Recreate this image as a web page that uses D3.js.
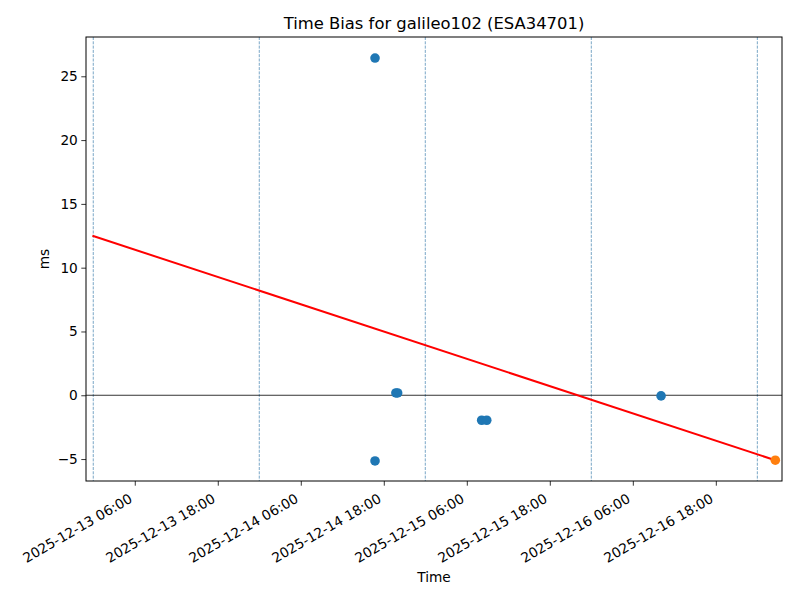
<!DOCTYPE html>
<html><head><meta charset="utf-8">
<script src="https://cdn.jsdelivr.net/npm/d3@7"></script>
<style>body{margin:0;background:#fff}svg{display:block}text{font-family:"DejaVu Sans",sans-serif;fill:#000}</style>
</head><body><svg id="c" width="800" height="600"></svg>
<script>
const title = "Time Bias for galileo102 (ESA34701)";
const blueTimes = ["2025-12-14T16:44","2025-12-14T16:44","2025-12-14T19:45","2025-12-14T20:00","2025-12-15T08:09","2025-12-15T08:53","2025-12-16T10:05"];
const blueValues = [26.43,-5.15,0.18,0.18,-1.96,-1.96,-0.05];
const orangeTimes = ["2025-12-17T02:36"];
const orangeValues = [-5.09];
const fitTimes = ["2025-12-12T23:53","2025-12-17T02:36"];
const fitValues = [12.5,-5.09];
const dayLines = ["2025-12-13T00:00","2025-12-14T00:00","2025-12-15T00:00","2025-12-16T00:00","2025-12-17T00:00"];
const xTicks = ["2025-12-13T06:00","2025-12-13T18:00","2025-12-14T06:00","2025-12-14T18:00","2025-12-15T06:00","2025-12-15T18:00","2025-12-16T06:00","2025-12-16T18:00"];
const yTicks = [-5,0,5,10,15,20,25];
const xDomain = ["2025-12-12T22:57","2025-12-17T03:34"];
const yDomain = [-6.72,28.08];

const P = s => new Date(s + ":00Z");
const L = 86, R = 782, T = 37, B = 481;
const svg = d3.select("#c");
const x = d3.scaleUtc().domain(xDomain.map(P)).range([L, R]);
const y = d3.scaleLinear().domain(yDomain).range([B, T]);
const fmt = d3.utcFormat("%Y-%m-%d %H:%M");
const mfmt = v => (v < 0 ? "\u2212" : "") + Math.abs(v);

svg.append("clipPath").attr("id","cl").append("rect").attr("x",L).attr("y",T).attr("width",R-L).attr("height",B-T);
const g = svg.append("g").attr("clip-path","url(#cl)");

g.selectAll(".dl").data(dayLines).join("line")
  .attr("x1", d => x(P(d))).attr("x2", d => x(P(d))).attr("y1", T).attr("y2", B)
  .attr("stroke", "#3f7fae").attr("stroke-width", 0.7).attr("stroke-dasharray", "3,1.3");
g.append("line").attr("x1", L).attr("x2", R).attr("y1", y(0)).attr("y2", y(0))
  .attr("stroke", "#000").attr("stroke-width", 0.8);
g.append("path").datum(fitTimes.map((t,i)=>[P(t), fitValues[i]]))
  .attr("d", d3.line().x(d=>x(d[0])).y(d=>y(d[1])))
  .attr("fill","none").attr("stroke","red").attr("stroke-width",2);
g.selectAll(".bp").data(blueTimes.map((t,i)=>[P(t), blueValues[i]])).join("circle")
  .attr("cx", d=>x(d[0])).attr("cy", d=>y(d[1])).attr("r", 4.8).attr("fill", "#1f77b4");
g.selectAll(".op").data(orangeTimes.map((t,i)=>[P(t), orangeValues[i]])).join("circle")
  .attr("cx", d=>x(d[0])).attr("cy", d=>y(d[1])).attr("r", 4.8).attr("fill", "#ff7f0e");

const xa = svg.append("g").attr("transform", `translate(0,${B})`)
  .call(d3.axisBottom(x).tickValues(xTicks.map(P)).tickFormat(fmt).tickSize(4.7).tickPadding(3.5));
xa.select(".domain").remove();
xa.selectAll(".tick line").attr("stroke","#000").attr("stroke-width",0.8);
xa.selectAll(".tick text").attr("font-size", 13.7).attr("text-anchor","end")
  .attr("dy", null).attr("y", null)
  .attr("transform", "translate(-2,20.5) rotate(-30)");

const ya = svg.append("g").attr("transform", `translate(${L},0)`)
  .call(d3.axisLeft(y).tickValues(yTicks).tickFormat(mfmt).tickSize(4.7).tickPadding(3.5));
ya.select(".domain").remove();
ya.selectAll(".tick line").attr("stroke","#000").attr("stroke-width",0.8);
ya.selectAll(".tick text").attr("font-size", 13.7);

svg.append("rect").attr("x",L).attr("y",T).attr("width",R-L).attr("height",B-T)
  .attr("fill","none").attr("stroke","#000").attr("stroke-width",1);

svg.append("text").attr("x",(L+R)/2).attr("y",28.5).attr("text-anchor","middle").attr("font-size",16.4).text(title);
svg.append("text").attr("x",(L+R)/2).attr("y",582).attr("text-anchor","middle").attr("font-size",13.7).text("Time");
svg.append("text").attr("transform",`translate(49,${(T+B)/2}) rotate(-90)`).attr("text-anchor","middle").attr("font-size",13.7).text("ms");
</script></body></html>
